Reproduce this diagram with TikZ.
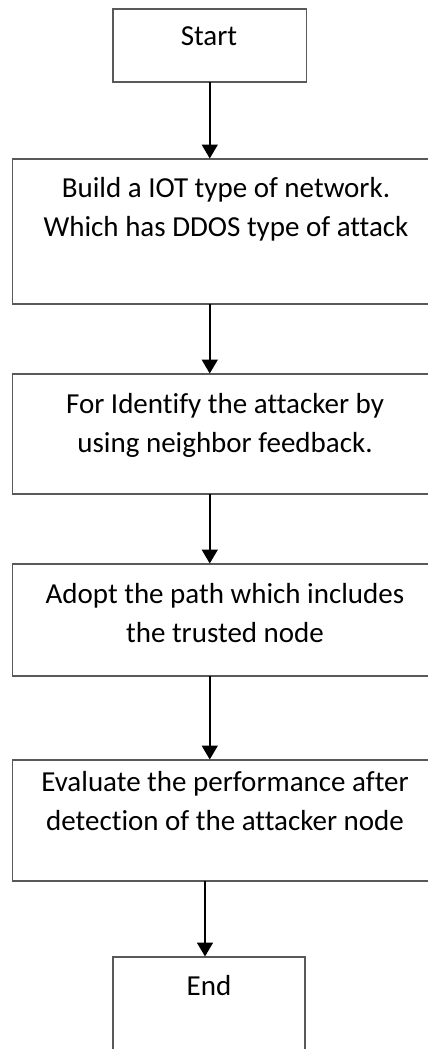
\documentclass[tikz,border=0pt]{standalone}
\usepackage{fontspec}
\setmainfont[Ligatures=NoCommon]{Carlito}
\usetikzlibrary{arrows.meta}
\definecolor{boxline}{RGB}{89,89,89}
\tikzset{
  stepbox/.style={draw=boxline, line width=1.3pt, rectangle, inner sep=0pt, outer sep=0pt},
  steptext/.style={anchor=base, align=center, inner sep=0pt,
    font=\fontsize{29pt}{39pt}\selectfont},
  flow/.style={line width=1.8pt, -{Triangle[length=14pt,width=16pt]}, shorten >=0.5pt}
}
\begin{document}
\begin{tikzpicture}[x=1pt,y=-1pt]
\clip (0,0) rectangle (428,1049);
\fill[white] (0,0) rectangle (428,1049);

% process boxes
\node[stepbox, minimum width=193.5pt, minimum height=73pt] (start) at (209.75,45.5) {};
\node[stepbox, minimum width=424.3pt, minimum height=145pt] (build) at (224.85,231.5) {};
\node[stepbox, minimum width=424.3pt, minimum height=120pt] (identify) at (224.85,434) {};
\node[stepbox, minimum width=424.3pt, minimum height=112pt] (adopt) at (224.85,620) {};
\node[stepbox, minimum width=424.3pt, minimum height=121pt] (evaluate) at (224.85,820.5) {};
\node[stepbox, minimum width=192pt, minimum height=113pt] (finish) at (209,1013.5) {};

% box texts (anchored at the baseline of the last line)
\node[steptext] (startlbl) at (209,46) {Start};
\node[steptext] (buildlbl) at (226,236) {Build a IOT type of network.\\Which has DDOS type of attack};
\node[steptext] (identifylbl) at (225,452) {For Identify the attacker by\\using neighbor feedback.};
\node[steptext] (adoptlbl) at (225,642) {Adopt the path which includes\\the trusted node};
\node[steptext] (evaluatelbl) at (225,830) {Evaluate the performance after\\detection of the attacker node};
\node[steptext] (finishlbl) at (209,995.7) {End};

% connectors
\draw[flow] (start.south) -- (start.south |- build.north);
\draw[flow] (start.south |- build.south) -- (start.south |- identify.north);
\draw[flow] (start.south |- identify.south) -- (start.south |- adopt.north);
\draw[flow] (start.south |- adopt.south) -- (start.south |- evaluate.north);
\draw[flow] ([xshift=-4pt]finish.north |- evaluate.south) -- ([xshift=-4pt]finish.north);
\end{tikzpicture}
\end{document}
